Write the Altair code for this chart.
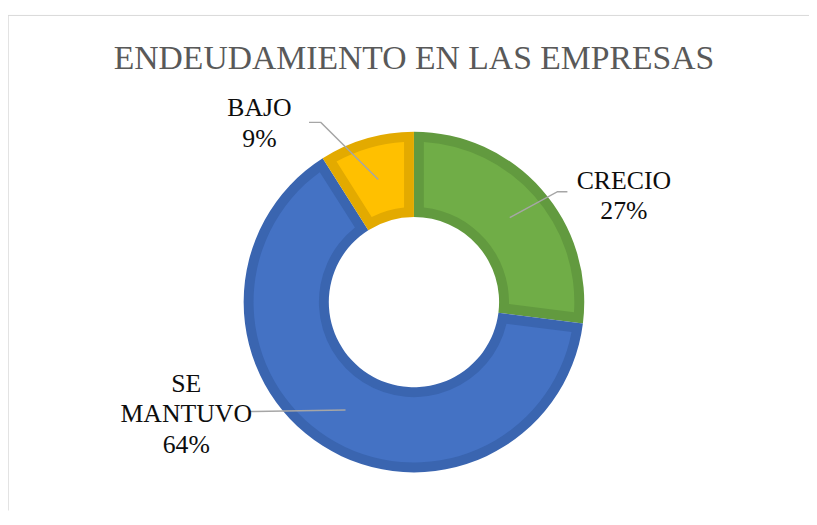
import math
import altair as alt
import pandas as pd

# ---- data ----
categories = ["CRECIO", "SE MANTUVO", "BAJO"]
values = [27, 64, 9]
order_idx = [1, 2, 3]
label_names = ["CRECIO", "SE\nMANTUVO", "BAJO"]
title_text = "ENDEUDAMIENTO  EN LAS EMPRESAS"

# ---- styles / layout ----
fill_colors = ["#70AD47", "#4472C4", "#FFC000"]
border_colors = ["#629A3F", "#3A65B0", "#E3AA00"]
W, H = 809, 500
CX, CY = 410, 289.5
R_OUT, R_IN, BORDER = 172, 86, 10
R_LEADER = 129
# x centre and centre of first text line (view coordinates)
label_xy = {"CRECIO": (622, 167), "SE MANTUVO": (180, 372), "BAJO": (254, 94)}
leader_outer = {
    "CRECIO": [(555, 178), (565, 178)],
    "SE MANTUVO": [(244, 400)],
    "BAJO": [(316, 108), (304, 108)],
}
FONT = "Liberation Serif"

total = sum(values)
df = pd.DataFrame({"cat": categories, "value": values, "idx": order_idx})

lab = pd.DataFrame({
    "cat": categories,
    "text": [f"{n}\n{round(v / total * 100)}%" for n, v in zip(label_names, values)],
    "x": [label_xy[c][0] for c in categories],
    "y": [label_xy[c][1] for c in categories],
})

rows = []
cum = 0
for c, v in zip(categories, values):
    a = (cum + v / 2) / total * 2 * math.pi
    cum += v
    pts = [(CX + R_LEADER * math.sin(a), CY - R_LEADER * math.cos(a))] + leader_outer[c]
    for i, (px, py) in enumerate(pts):
        rows.append({"cat": c, "seq": i, "x": px, "y": py})
lines_df = pd.DataFrame(rows)

base = alt.Chart(df).encode(
    theta=alt.Theta("value:Q", stack=True),
    order=alt.Order("idx:Q"),
    x=alt.value(CX),
    y=alt.value(CY),
)

dark = base.mark_arc(outerRadius=R_OUT, innerRadius=R_IN).encode(
    color=alt.Color("cat:N", scale=alt.Scale(domain=categories, range=border_colors), legend=None)
)
pad_r = math.sqrt((R_IN + BORDER) ** 2 + (R_OUT - BORDER) ** 2)
light = base.mark_arc(
    outerRadius=R_OUT - BORDER, innerRadius=R_IN + BORDER, padAngle=2 * BORDER / pad_r
).encode(
    color=alt.Color("cat:N", scale=alt.Scale(domain=categories, range=fill_colors), legend=None)
)

leaders = alt.Chart(lines_df).mark_line(color="#A6A6A6", strokeWidth=1.5).encode(
    x=alt.X("x:Q", scale=None),
    y=alt.Y("y:Q", scale=None),
    detail="cat:N",
    order="seq:Q",
)

labels = alt.Chart(lab).mark_text(
    font=FONT, fontSize=26, lineHeight=31, align="center", baseline="middle",
    color="#0D0D0D", lineBreak="\n",
).encode(
    x=alt.X("x:Q", scale=None),
    y=alt.Y("y:Q", scale=None),
    text="text:N",
)

title = alt.Chart(pd.DataFrame({"t": [title_text]})).mark_text(
    font=FONT, fontSize=34, align="center", baseline="alphabetic", color="#595959"
).encode(x=alt.value(410), y=alt.value(54), text="t:N")

frame_top = alt.Chart(pd.DataFrame({"k": [0]})).mark_rule(color="#D9D9D9", strokeWidth=1).encode(
    x=alt.value(0), x2=alt.value(W), y=alt.value(0)
)
frame_left = alt.Chart(pd.DataFrame({"k": [0]})).mark_rule(color="#D9D9D9", strokeWidth=1.5).encode(
    x=alt.value(0), y=alt.value(0), y2=alt.value(H)
)

chart = alt.layer(frame_top, frame_left, dark, light, leaders, labels, title).resolve_scale(
    color="independent", theta="shared"
).properties(
    width=W, height=H, autosize="none",
    padding={"left": 0, "top": 5, "right": 0, "bottom": 0},
).configure_view(stroke=None)

chart.save("out.html", embed_options={"renderer": "svg", "actions": False})
